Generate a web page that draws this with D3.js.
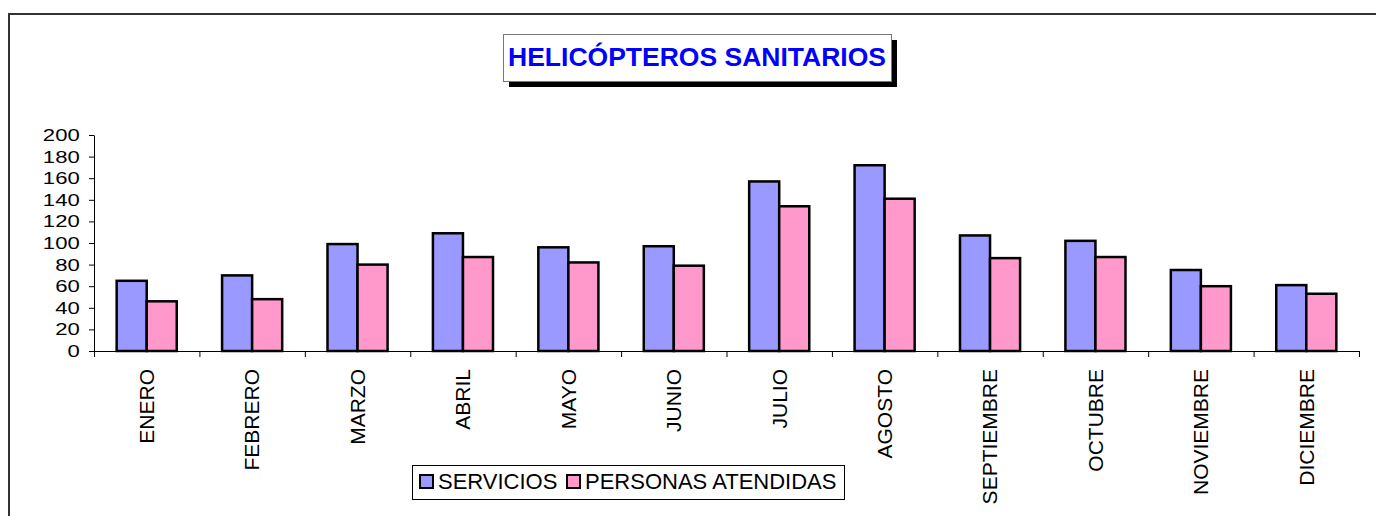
<!DOCTYPE html>
<html>
<head>
<meta charset="utf-8">
<script src="https://cdn.jsdelivr.net/npm/d3@7"></script>
<style>
  body { margin: 0; background: #fff; }
  svg { display: block; font-family: "Liberation Sans", Arial, sans-serif; }
</style>
</head>
<body>
<svg width="1376" height="516"></svg>
<script>
var svg = d3.select('svg');

// data
const months = ["ENERO", "FEBRERO", "MARZO", "ABRIL", "MAYO", "JUNIO", "JULIO", "AGOSTO", "SEPTIEMBRE", "OCTUBRE", "NOVIEMBRE", "DICIEMBRE"];
const servicios = [65, 70, 99, 109, 96, 97, 157, 172, 107, 102, 75, 61];
const personas = [46, 48, 80, 87, 82, 79, 134, 141, 86, 87, 60, 53];
const seriesNames = ["SERVICIOS", "PERSONAS ATENDIDAS"];
const seriesColors = ["#9999ff", "#ff99cc"];
const yTicks = [0, 20, 40, 60, 80, 100, 120, 140, 160, 180, 200];
const title = "HELICÓPTEROS SANITARIOS";

// plot area (window.top is reserved, so use other names)
var plotLeft = 94, plotRight = 1359, plotTop = 135, plotBottom = 351;

// outer frame (only top and left are visible)
svg.append("path")
    .attr("d", "M9,516 L9,14 L1376,14")
    .attr("fill", "none")
    .attr("stroke", "#333")
    .attr("stroke-width", 2);

// title box with shadow
svg.append("rect")
    .attr("x", 509).attr("y", 40)
    .attr("width", 388).attr("height", 47)
    .attr("fill", "#000");
svg.append("rect")
    .attr("x", 503.5).attr("y", 34.5)
    .attr("width", 388).attr("height", 47)
    .attr("fill", "#fff")
    .attr("stroke", "#777")
    .attr("stroke-width", 1);
svg.append("text")
    .attr("x", 697).attr("y", 66)
    .attr("text-anchor", "middle")
    .style("font-size", "26.5px")
    .style("font-weight", "bold")
    .style("fill", "#0000ff")
    .text(title);

var yScale = d3.scaleLinear().domain([0, 200]).range([plotBottom, plotTop]);
var xScale = d3.scaleBand().domain(months).range([plotLeft, plotRight]);
var bw = xScale.bandwidth();
var inner = d3.scaleBand().domain(seriesNames)
    .range([bw * 0.215, bw * 0.785]);

// y axis
var yAxis = d3.axisLeft(yScale).tickValues(yTicks).tickSize(5).tickSizeOuter(0);
var gy = svg.append("g")
    .attr("transform", "translate(" + plotLeft + ",0)")
    .call(yAxis);
gy.select(".domain").attr("stroke", "#000");
gy.selectAll(".tick line").attr("stroke", "#000");
gy.selectAll(".tick text")
    .attr("x", -11)
    .attr("transform", "scale(1.3,1)")
    .style("font-size", "17px")
    .style("font-family", "'Liberation Sans', Arial, sans-serif")
    .style("fill", "#000");

// x axis: line with ticks on category boundaries
var edges = d3.scaleLinear().domain([0, months.length]).range([plotLeft, plotRight]);
var xAxis = d3.axisBottom(edges).tickValues(d3.range(months.length + 1))
    .tickFormat("").tickSize(6).tickSizeOuter(0);
var gx = svg.append("g")
    .attr("transform", "translate(0," + plotBottom + ")")
    .call(xAxis);
gx.select(".domain").attr("stroke", "#000");
gx.selectAll(".tick line").attr("stroke", "#000");

// bars
var rows = months.map((m, i) => ({ month: m, values: [servicios[i], personas[i]] }));

var groups = svg.append("g").selectAll("g")
    .data(rows)
    .enter().append("g")
    .attr("transform", d => "translate(" + xScale(d.month) + ",0)");

groups.selectAll("rect")
    .data(d => d.values.map((v, k) => ({ key: seriesNames[k], value: v, k: k })))
    .enter().append("rect")
    .attr("x", d => inner(d.key))
    .attr("y", d => yScale(d.value))
    .attr("width", inner.bandwidth())
    .attr("height", d => plotBottom - yScale(d.value))
    .attr("fill", d => seriesColors[d.k])
    .attr("stroke", "#000")
    .attr("stroke-width", 2.5);

// month labels, rotated
svg.append("g").selectAll("text")
    .data(months)
    .enter().append("text")
    .attr("transform", d => "translate(" + (xScale(d) + bw / 2) + ",369) rotate(-90)")
    .attr("text-anchor", "end")
    .attr("dy", "0.35em")
    .style("font-size", "21px")
    .text(d => d);

// legend
var legend = svg.append("g");
legend.append("rect")
    .attr("x", 412.5).attr("y", 465.5)
    .attr("width", 432).attr("height", 34)
    .attr("fill", "#fff")
    .attr("stroke", "#000")
    .attr("stroke-width", 1);

var legendX = [420, 567];
seriesNames.forEach((name, i) => {
    legend.append("rect")
        .attr("x", legendX[i]).attr("y", 475)
        .attr("width", 13).attr("height", 13)
        .attr("fill", seriesColors[i])
        .attr("stroke", "#000")
        .attr("stroke-width", 2);
    legend.append("text")
        .attr("x", legendX[i] + 18).attr("y", 489)
        .style("font-size", "22px")
        .text(name);
});
</script>
</body>
</html>
